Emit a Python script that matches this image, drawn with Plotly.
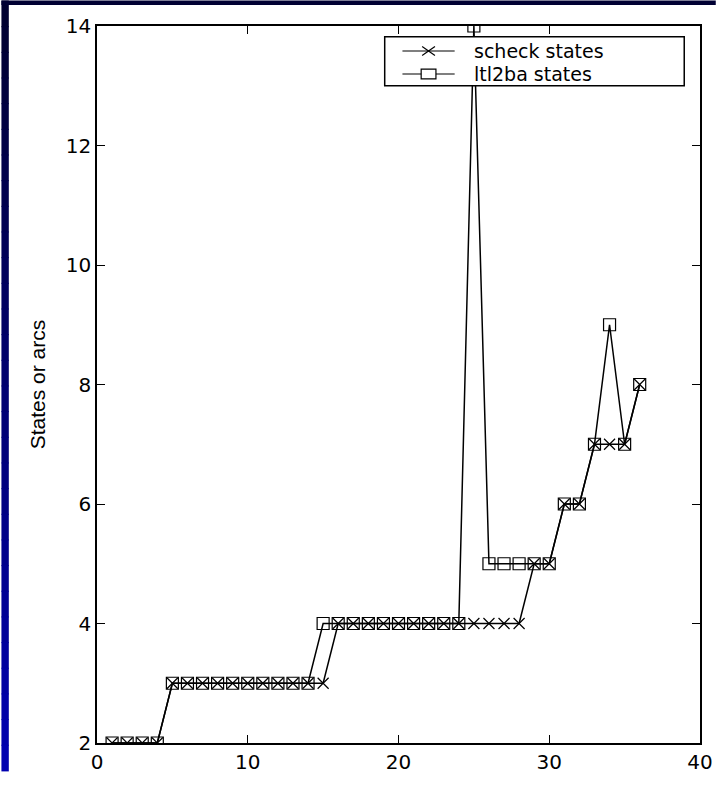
import plotly.graph_objects as go

# ---- data ----
x_vals = list(range(1, 37))
scheck_states = [2, 2, 2, 2,
                 3, 3, 3, 3, 3, 3, 3, 3, 3, 3, 3,
                 4, 4, 4, 4, 4, 4, 4, 4, 4, 4, 4, 4, 4,
                 5, 5, 6, 6, 7, 7, 7, 8]
ltl2ba_states = [2, 2, 2, 2,
                 3, 3, 3, 3, 3, 3, 3, 3, 3, 3,
                 4, 4, 4, 4, 4, 4, 4, 4, 4, 4,
                 14, 5, 5, 5, 5, 5, 6, 6, 7, 9, 7, 8]
series_names = ["scheck states", "ltl2ba states"]
x_ticks = [0, 10, 20, 30, 40]
y_ticks = [2, 4, 6, 8, 10, 12, 14]

W, H = 725, 786
ML, MR, MT, MB = 97, 16, 26, 28
PW, PH = W - ML - MR, H - MT - MB


def px_x(p):
    return (p - ML) / PW


def px_y(p):
    return (H - MB - p) / PH


fig = go.Figure()
fig.add_trace(go.Scatter(
    x=x_vals, y=scheck_states, name=series_names[0], mode="lines+markers",
    line=dict(color="black", width=1.5),
    marker=dict(symbol="x-thin-open", size=11, line=dict(color="black", width=1.2)),
))
fig.add_trace(go.Scatter(
    x=x_vals, y=ltl2ba_states, name=series_names[1], mode="lines+markers",
    line=dict(color="black", width=1.5),
    marker=dict(symbol="square-open", size=12, color="black", line=dict(color="black", width=1.2)),
))

shapes = []
# left gradient strip (navy at top to blue at bottom)
n = 30
for i in range(n):
    p0 = H * i / n
    p1 = H * (i + 1) / n + 1
    t = i / (n - 1)
    b = int(0x30 + t * (0xb0 - 0x30))
    shapes.append(dict(type="rect", xref="paper", yref="paper",
                       x0=px_x(0), x1=px_x(7.5), y0=px_y(p0), y1=px_y(p1),
                       fillcolor=f"rgb(0,0,{b})", line=dict(width=0), layer="below"))
# top dark bar
shapes.append(dict(type="rect", xref="paper", yref="paper",
                   x0=px_x(0), x1=px_x(W), y0=px_y(0), y1=px_y(4.5),
                   fillcolor="#000033", line=dict(width=0), layer="below"))

# ---- legend drawn by hand: box, sample lines, sample markers, labels ----
LX0, LX1, LY0, LY1 = 389, 693, 37, 87
shapes.append(dict(type="rect", xref="paper", yref="paper",
                   x0=px_x(LX0), x1=px_x(LX1), y0=px_y(LY1), y1=px_y(LY0),
                   fillcolor="white", line=dict(color="black", width=1.5), layer="above"))
row_y = [51.5, 75]
sx0, sx1 = 407, 460
sc = (sx0 + sx1) / 2
annotations = []
for i, ry in enumerate(row_y):
    shapes.append(dict(type="line", xref="paper", yref="paper",
                       x0=px_x(sx0), x1=px_x(sx1), y0=px_y(ry), y1=px_y(ry),
                       line=dict(color="black", width=1.2), layer="above"))
    annotations.append(dict(xref="paper", yref="paper", x=px_x(479), y=px_y(ry),
                            xanchor="left", yanchor="middle", showarrow=False,
                            borderpad=0, text=series_names[i],
                            font=dict(family="DejaVu Sans", size=19, color="black")))
# cross sample
cw, ch = 6.5, 4.5
for (a, b, c, d) in [(-cw, -ch, cw, ch), (-cw, ch, cw, -ch)]:
    shapes.append(dict(type="line", xref="paper", yref="paper",
                       x0=px_x(sc + a), y0=px_y(row_y[0] + b), x1=px_x(sc + c), y1=px_y(row_y[0] + d),
                       line=dict(color="black", width=1.2), layer="above"))
# square sample
shapes.append(dict(type="rect", xref="paper", yref="paper",
                   x0=px_x(sc - 7.5), x1=px_x(sc + 7.5), y0=px_y(row_y[1] + 5), y1=px_y(row_y[1] - 5),
                   fillcolor="white", line=dict(color="black", width=1.2), layer="above"))

axis_common = dict(showline=True, linecolor="black", linewidth=1.5, mirror="ticks",
                   ticks="inside", ticklen=8, tickwidth=1, tickcolor="black",
                   showgrid=False, zeroline=False,
                   tickfont=dict(family="DejaVu Sans", size=20, color="black"))

fig.update_layout(
    width=W, height=H,
    margin=dict(l=ML, r=MR, t=MT, b=MB),
    paper_bgcolor="white", plot_bgcolor="white",
    showlegend=False,
    xaxis=dict(range=[0, 40], tickvals=x_ticks, ticktext=[str(v) for v in x_ticks], **axis_common),
    yaxis=dict(range=[2, 14], tickvals=y_ticks, ticktext=[str(v) for v in y_ticks],
               title=dict(text="States or arcs", standoff=14,
                          font=dict(family="Liberation Sans", size=21, color="black")),
               **axis_common),
    shapes=shapes,
    annotations=annotations,
)

fig.write_html("out.html",
               post_script="document.documentElement.style.margin='0';document.body.style.margin='0';",
               config={"responsive": False, "displayModeBar": False})
